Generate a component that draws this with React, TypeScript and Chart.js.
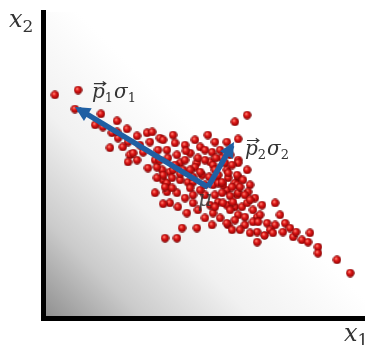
import React, { useEffect, useRef } from "react";
import { Chart, registerables } from "chart.js";

Chart.register(...registerables);

// ---- data (arbitrary units 0..10 on both axes) ----
const pointsX = [
  0.37, 1.09, 0.99, 1.80, 1.62, 1.86, 2.30, 2.61, 2.14, 2.33, 2.08, 2.64, 2.92, 3.23, 2.48, 3.01, 2.70, 2.92, 2.64, 2.80,
  3.32, 3.63, 3.26, 3.57, 3.85, 3.48, 3.70, 2.30, 3.11, 3.39, 6.34, 5.96, 5.12, 4.04, 3.73, 5.34, 5.71, 6.06, 4.88, 4.57,
  3.54, 4.26, 4.78, 5.19, 5.56, 6.06, 6.34, 6.06, 5.71, 6.43, 3.94, 3.73, 3.48, 4.16, 4.50, 4.94, 5.40, 5.71, 5.25, 4.16,
  4.41, 4.72, 5.03, 5.28, 5.65, 4.04, 4.35, 4.88, 5.44, 5.75, 3.85, 4.26, 4.66, 5.28, 5.96, 5.56, 3.85, 4.66, 6.03, 3.73,
  4.01, 4.26, 4.66, 5.75, 6.03, 5.44, 3.79, 4.01, 4.57, 5.81, 5.44, 5.71, 5.96, 3.94, 4.19, 4.66, 4.47, 5.28, 5.03, 5.50,
  5.75, 4.32, 4.78, 3.79, 4.16, 6.65, 3.73, 6.06, 6.03, 5.59, 5.87, 6.06, 5.59, 5.90, 6.18, 6.34, 6.52, 5.81, 6.06, 6.27,
  6.65, 7.21, 7.36, 6.96, 7.21, 7.52, 5.71, 6.52, 7.05, 6.65, 6.88, 7.77, 8.29, 8.04, 8.23, 8.54, 8.54, 9.13, 9.54, 6.74,
  6.68, 7.14, 4.41, 4.72, 5.03, 4.10, 5.50, 5.81, 6.21, 6.37, 6.58, 6.80, 5.03, 5.19, 4.81, 5.34, 6.27, 6.12, 5.96, 3.54,
  4.41, 5.03, 6.43, 7.45, 7.67, 7.86, 5.34, 4.57, 3.63, 4.44, 4.81, 5.37, 5.87, 5.16, 5.56, 6.27, 6.43, 4.10, 3.88, 4.88,
  5.34, 6.12, 5.87, 5.25,
];
const pointsY = [
  7.29, 7.45, 6.83, 6.67, 6.31, 6.24, 6.44, 6.18, 6.05, 5.88, 5.56, 5.75, 5.95, 6.05, 5.59, 5.65, 5.33, 5.16, 5.10, 5.39,
  5.75, 5.88, 4.90, 5.49, 5.49, 5.16, 4.84, 6.08, 5.42, 6.08, 6.63, 6.41, 5.98, 5.98, 5.82, 5.75, 5.75, 5.85, 5.59, 5.39,
  4.93, 5.07, 5.07, 5.10, 5.23, 5.16, 4.84, 4.58, 4.84, 4.35, 4.77, 4.51, 4.09, 4.09, 4.44, 4.67, 4.61, 4.18, 5.42, 5.33,
  5.16, 4.93, 5.16, 5.00, 5.07, 4.84, 4.84, 4.77, 4.67, 4.58, 4.41, 4.51, 4.44, 4.35, 4.41, 4.09, 4.12, 4.02, 4.02, 4.67,
  4.58, 4.71, 4.61, 4.74, 4.35, 4.41, 4.28, 4.25, 4.25, 3.99, 3.79, 3.69, 3.63, 3.76, 3.63, 3.76, 3.43, 3.43, 3.27, 3.27,
  3.04, 2.94, 2.94, 2.61, 2.61, 2.48, 3.73, 5.07, 4.67, 4.35, 4.28, 4.09, 3.76, 3.79, 3.63, 3.76, 3.53, 3.53, 3.37, 3.30,
  3.30, 3.76, 3.37, 3.10, 3.04, 3.10, 3.10, 3.14, 2.88, 2.81, 2.70, 2.65, 2.78, 2.55, 2.48, 2.32, 2.12, 1.90, 1.47, 3.37,
  3.14, 2.78, 5.65, 5.82, 5.49, 5.72, 5.49, 5.33, 4.51, 4.12, 3.92, 3.69, 4.02, 3.69, 3.53, 4.02, 3.04, 2.88, 3.20, 4.58,
  3.92, 4.35, 2.78, 2.81, 2.94, 2.81, 4.84, 4.84, 5.16, 5.46, 5.23, 5.23, 5.00, 4.61, 4.44, 4.02, 3.86, 5.00, 5.23, 4.18,
  3.63, 4.28, 2.88, 3.04,
];

const meanPoint = [5.12, 4.28];
const pc1End = [1.1, 6.83];
const pc2End = [5.87, 5.64];

const xAxisLabel = ["x", "1"];
const yAxisLabel = ["x", "2"];
const pc1Label = ["p", "1", "σ", "1"];
const pc2Label = ["p", "2", "σ", "2"];
const meanLabel = "μ";

const ARROW_COLOR = "#1f5fa3";
const TEXT_COLOR = "#333333";

function makeSphere(d: number): HTMLCanvasElement {
  const c = document.createElement("canvas");
  c.width = d;
  c.height = d;
  const g = c.getContext("2d")!;
  const r = d / 2;
  const grad = g.createRadialGradient(r * 0.75, r * 0.7, r * 0.1, r, r, r);
  grad.addColorStop(0, "#ff8070");
  grad.addColorStop(0.35, "#e01818");
  grad.addColorStop(0.8, "#a00606");
  grad.addColorStop(1, "#5a0000");
  g.fillStyle = grad;
  g.beginPath();
  g.arc(r, r, r - 0.3, 0, Math.PI * 2);
  g.fill();
  return c;
}

function drawLabel(ctx: CanvasRenderingContext2D, x: number, y: number, parts: string[], big: number, small: number, vec: boolean) {
  let cx = x;
  parts.forEach((t, i) => {
    const isSub = i % 2 === 1;
    ctx.font = isSub ? `${small}px "DejaVu Serif"` : `italic ${big}px "DejaVu Serif"`;
    const dy = isSub ? Math.round(big * 0.22) : 0;
    ctx.fillText(t, cx, y + dy);
    const w = ctx.measureText(t).width;
    if (vec && i === 0) {
      const ay = y - big * 0.72;
      const ax0 = cx + 2;
      const ax1 = cx + w + 1;
      ctx.save();
      ctx.strokeStyle = TEXT_COLOR;
      ctx.lineWidth = 1.2;
      ctx.beginPath();
      ctx.moveTo(ax0, ay);
      ctx.lineTo(ax1, ay);
      ctx.moveTo(ax1 - 3, ay - 2.2);
      ctx.lineTo(ax1, ay);
      ctx.lineTo(ax1 - 3, ay + 2.2);
      ctx.stroke();
      ctx.restore();
    }
    cx += w + (isSub ? 1 : 0);
  });
}

const decorPlugin = {
  id: "decor",
  beforeDraw(chart: any) {
    const { ctx, chartArea: a } = chart;
    ctx.save();
    const g = ctx.createLinearGradient(a.left, a.bottom, a.left + 170, a.bottom - 170);
    g.addColorStop(0, "#8e8e8e");
    g.addColorStop(0.3, "#cbcbcb");
    g.addColorStop(0.62, "#f1f1f1");
    g.addColorStop(1, "#ffffff");
    ctx.fillStyle = g;
    ctx.fillRect(a.left, a.top, a.right - a.left, a.bottom - a.top);
    ctx.restore();
  },
  afterDatasetsDraw(chart: any) {
    const { ctx, scales } = chart;
    const xs = scales.x;
    const ys = scales.y;
    const mx = xs.getPixelForValue(meanPoint[0]);
    const my = ys.getPixelForValue(meanPoint[1]);
    ctx.save();
    [pc1End, pc2End].forEach((e) => {
      const ex = xs.getPixelForValue(e[0]);
      const ey = ys.getPixelForValue(e[1]);
      const dx = ex - mx;
      const dy = ey - my;
      const len = Math.hypot(dx, dy);
      const ux = dx / len;
      const uy = dy / len;
      const tipX = ex + ux * 4;
      const tipY = ey + uy * 4;
      const L = 15;
      const W = 7.5;
      const bx = tipX - ux * L;
      const by = tipY - uy * L;
      ctx.fillStyle = ARROW_COLOR;
      ctx.beginPath();
      ctx.moveTo(tipX, tipY);
      ctx.lineTo(bx - uy * W, by + ux * W);
      ctx.lineTo(bx + uy * W, by - ux * W);
      ctx.closePath();
      ctx.fill();
    });
    ctx.fillStyle = TEXT_COLOR;
    ctx.textBaseline = "alphabetic";
    const p1x = xs.getPixelForValue(pc1End[0]);
    const p1y = ys.getPixelForValue(pc1End[1]);
    drawLabel(ctx, p1x + 13.5, p1y - 11, pc1Label, 20, 13, true);
    const p2x = xs.getPixelForValue(pc2End[0]);
    const p2y = ys.getPixelForValue(pc2End[1]);
    drawLabel(ctx, p2x + 13, p2y + 9.5, pc2Label, 20, 13, true);
    ctx.globalAlpha = 0.85;
    ctx.font = 'italic 22px "DejaVu Serif"';
    ctx.fillText(meanLabel, mx - 10, my + 19);
    ctx.globalAlpha = 1;
    const a = chart.chartArea;
    drawLabel(ctx, a.left - 34, a.top + 15, yAxisLabel, 24, 17, false);
    drawLabel(ctx, a.right - 21, a.bottom + 23, xAxisLabel, 24, 17, false);
    ctx.restore();
  },
};

export default function App() {
  const ref = useRef<HTMLCanvasElement | null>(null);
  useEffect(() => {
    if (!ref.current) return;
    const sphere = makeSphere(9);
    const cloud = pointsX.map((x, i) => ({ x, y: pointsY[i] }));
    const chart = new Chart(ref.current, {
      type: "scatter",
      data: {
        datasets: [
          {
            data: [
              { x: meanPoint[0], y: meanPoint[1] },
              { x: pc1End[0], y: pc1End[1] },
            ],
            showLine: true,
            borderColor: ARROW_COLOR,
            borderWidth: 5.5,
            borderCapStyle: "butt",
            pointRadius: 0,
            order: 0,
          } as any,
          {
            data: [
              { x: meanPoint[0], y: meanPoint[1] },
              { x: pc2End[0], y: pc2End[1] },
            ],
            showLine: true,
            borderColor: ARROW_COLOR,
            borderWidth: 5.5,
            borderCapStyle: "butt",
            pointRadius: 0,
            order: 0,
          } as any,
          {
            data: cloud,
            pointStyle: sphere,
            pointRadius: 4.5,
            order: 2,
          } as any,
        ],
      },
      options: {
        responsive: false,
        animation: false,
        events: [],
        layout: { padding: { left: 43, top: 12, right: 0, bottom: 27 }, autoPadding: false } as any,
        plugins: { legend: { display: false }, tooltip: { enabled: false } },
        scales: {
          x: {
            type: "linear",
            min: 0,
            max: 10,
            grid: { display: false, drawTicks: false },
            ticks: { display: false },
            border: { display: true, width: 5, color: "#000" },
            afterFit: (s: any) => {
              s.height = 0;
            },
          },
          y: {
            type: "linear",
            min: 0,
            max: 10,
            grid: { display: false, drawTicks: false },
            ticks: { display: false },
            border: { display: true, width: 5, color: "#000" },
            afterFit: (s: any) => {
              s.width = 0;
            },
          },
        },
      } as any,
      plugins: [decorPlugin],
    });
    return () => chart.destroy();
  }, []);
  return (
    <div style={{ position: "fixed", left: 0, top: 0, width: 365, height: 345, background: "#fff" }}>
      <canvas ref={ref} width={365} height={345} style={{ display: "block" }} />
    </div>
  );
}
